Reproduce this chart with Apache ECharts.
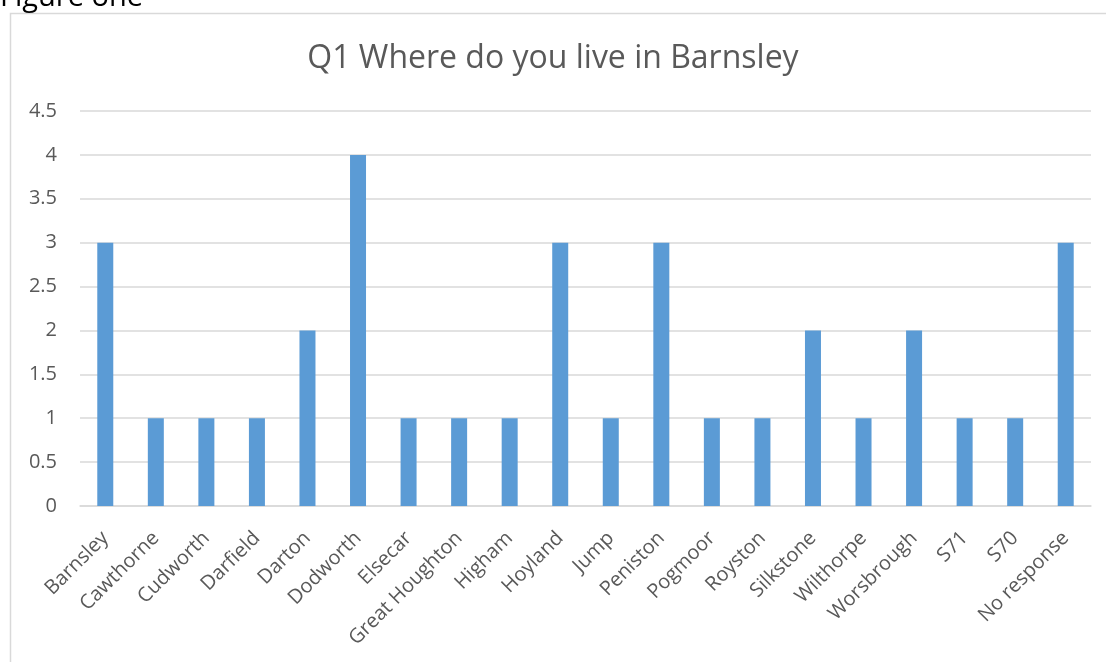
<!DOCTYPE html>
<html><head><meta charset="utf-8">
<script src="https://cdn.jsdelivr.net/npm/echarts@6/dist/echarts.min.js"></script>
<style>html,body{margin:0;padding:0;background:#fff}#c{width:1106px;height:662px}</style>
</head><body><div id="c"></div>
<script>
const categories = ["Barnsley","Cawthorne","Cudworth","Darfield","Darton","Dodworth","Elsecar","Great Houghton","Higham","Hoyland","Jump","Peniston","Pogmoor","Royston","Silkstone","Wilthorpe","Worsbrough","S71","S70","No response"];
const values = [3,1,1,1,2,4,1,1,1,3,1,3,1,1,2,1,2,1,1,3];
const yTicks = [0,0.5,1,1.5,2,2.5,3,3.5,4,4.5];
const FONT = "'Open Sans', 'Liberation Sans', sans-serif";
const chart = echarts.init(document.getElementById('c'));
chart.setOption({
  animation: false,
  backgroundColor: '#fff',
  title: {
    text: 'Q1 Where do you live in Barnsley',
    left: 'center', top: 38,
    textStyle: { fontFamily: FONT, fontSize: 32, fontWeight: 'normal', color: '#595959' }
  },
  graphic: [
    { type: 'rect', shape: { x: 10.5, y: 13.5, width: 1100, height: 700 }, style: { fill: 'none', stroke: '#d9d9d9', lineWidth: 1.5 } },
    { type: 'text', left: 0, top: -17, style: { text: 'Figure one', font: "29px " + FONT, fill: '#000' } }
  ],
  grid: { left: 80, right: 15, top: 111, bottom: 156 },
  xAxis: {
    type: 'category', data: categories,
    axisLine: { lineStyle: { color: '#d9d9d9', width: 1.5 } },
    axisTick: { show: false },
    axisLabel: { rotate: 45, interval: 0, fontFamily: FONT, fontSize: 20, color: '#595959', margin: 29 }
  },
  yAxis: {
    type: 'value', min: 0, max: 4.5, interval: 0.5,
    axisLine: { show: false }, axisTick: { show: false },
    splitLine: { lineStyle: { color: '#d9d9d9', width: 1.5 } },
    axisLabel: { fontFamily: FONT, fontSize: 20, color: '#595959', margin: 23,
      formatter: v => yTicks.includes(v) ? String(v) : '' }
  },
  series: [{
    type: 'bar', data: values, barWidth: 16,
    itemStyle: { color: '#5b9bd5' }
  }]
});
</script></body></html>
